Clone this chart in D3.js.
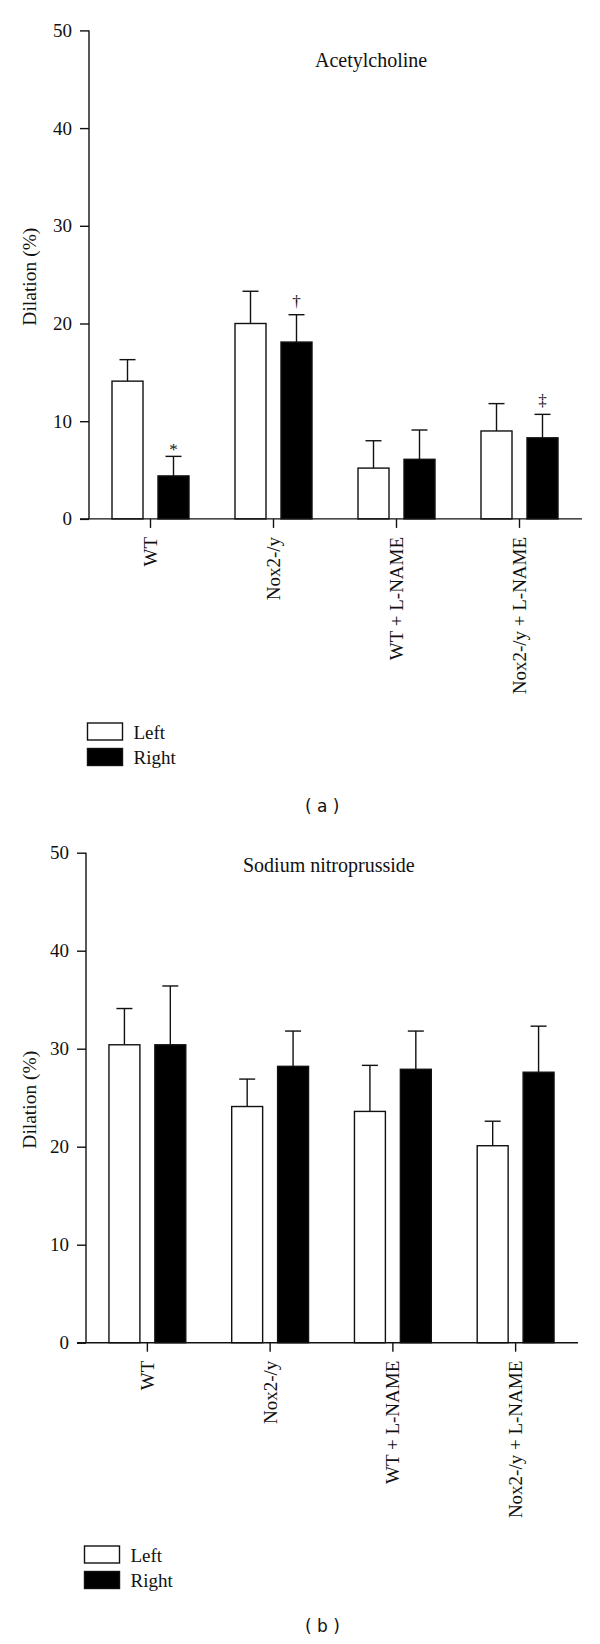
<!DOCTYPE html>
<html>
<head>
<meta charset="utf-8">
<script src="https://cdn.jsdelivr.net/npm/d3@7/dist/d3.min.js"></script>
<style>
  html, body { margin: 0; padding: 0; background: #fff; }
  svg { display: block; }
  text { fill: #111; }
</style>
</head>
<body>
<svg id="chart" width="600" height="1644"></svg>
<script>
// ---------- Data ----------
const categories = ["WT", "Nox2-/y", "WT + L-NAME", "Nox2-/y + L-NAME"];
const seriesNames = ["Left", "Right"];
const yTicks = [0, 10, 20, 30, 40, 50];

// Panel (a): Acetylcholine
const achLeft      = [14.1, 20.0, 5.2, 9.0];
const achLeftErr   = [2.2, 3.3, 2.8, 2.8];
const achRight     = [4.4, 18.1, 6.1, 8.3];
const achRightErr  = [2.0, 2.8, 3.0, 2.4];
const achRightMarks = ["*", "\u2020", "", "\u2021"];

// Panel (b): Sodium nitroprusside
const snpLeft      = [30.4, 24.1, 23.6, 20.1];
const snpLeftErr   = [3.7, 2.8, 4.7, 2.5];
const snpRight     = [30.4, 28.2, 27.9, 27.6];
const snpRightErr  = [6.0, 3.6, 3.9, 4.7];
const snpRightMarks = ["", "", "", ""];

// ---------- Drawing ----------
const svg = d3.select("#chart");
const SERIF = "'Liberation Serif', 'Times New Roman', serif";
const INK = "#111";
const LW = 1.4;

function drawPanel(cfg) {
  const g = svg.append("g");
  const y = d3.scaleLinear().domain([0, 50]).range([cfg.bottom, cfg.top]);
  const x0 = d3.scaleBand().domain(categories).range([cfg.left, cfg.right]).padding(0);
  const x1 = d3.scaleBand().domain(seriesNames).range([0, x0.bandwidth()])
    .paddingInner(0.326).paddingOuter(0.5);

  const rows = [];
  categories.forEach((c, i) => {
    rows.push({cat: c, s: "Left", v: cfg.left_vals[i], e: cfg.left_err[i], m: ""});
    rows.push({cat: c, s: "Right", v: cfg.right_vals[i], e: cfg.right_err[i], m: cfg.marks[i]});
  });

  // error bars (upper only)
  const eb = g.append("g");
  rows.forEach(d => {
    const cx = x0(d.cat) + x1(d.s) + x1.bandwidth() / 2;
    eb.append("line").attr("x1", cx).attr("x2", cx)
      .attr("y1", y(d.v)).attr("y2", y(d.v + d.e))
      .attr("stroke", INK).attr("stroke-width", LW);
    eb.append("line").attr("x1", cx - 8).attr("x2", cx + 8)
      .attr("y1", y(d.v + d.e)).attr("y2", y(d.v + d.e))
      .attr("stroke", INK).attr("stroke-width", LW);
    if (d.m) {
      const off = d.m === "*" ? 1 : 8;
      g.append("text").attr("x", cx).attr("y", y(d.v + d.e) - off)
        .attr("text-anchor", "middle")
        .style("font-family", SERIF).style("font-size", "17px")
        .text(d.m);
    }
  });

  // bars
  g.append("g").selectAll("rect").data(rows).join("rect")
    .attr("x", d => x0(d.cat) + x1(d.s))
    .attr("y", d => y(d.v))
    .attr("width", x1.bandwidth())
    .attr("height", d => y(0) - y(d.v))
    .attr("fill", d => d.s === "Left" ? "#fff" : "#000")
    .attr("stroke", INK).attr("stroke-width", LW);

  // y axis
  const ya = g.append("g").attr("transform", `translate(${cfg.left},0)`)
    .call(d3.axisLeft(y).tickValues(yTicks).tickSize(9).tickPadding(8).tickFormat(d3.format("d")))
    .attr("font-family", SERIF).attr("font-size", 19);
  ya.select(".domain").attr("stroke", INK).attr("stroke-width", LW).attr("d", `M0,${cfg.top}V${cfg.bottom}`);
  ya.selectAll(".tick line").attr("stroke", INK).attr("stroke-width", LW);
  ya.selectAll(".tick text").style("font-family", SERIF).style("font-size", "19px").attr("fill", INK);

  // x axis
  const xa = g.append("g").attr("transform", `translate(0,${cfg.bottom})`)
    .call(d3.axisBottom(x0).tickSize(9).tickPadding(9))
    .attr("font-family", SERIF).attr("font-size", 19);
  xa.select(".domain").attr("stroke", INK).attr("stroke-width", LW)
    .attr("d", `M${cfg.left - 9},0H${cfg.right + 1}`);
  xa.selectAll(".tick line").attr("stroke", INK).attr("stroke-width", LW);
  xa.selectAll(".tick text")
    .style("font-family", SERIF).style("font-size", "19px").attr("fill", INK)
    .attr("transform", "rotate(-90)")
    .attr("text-anchor", "end")
    .attr("x", -18).attr("y", 0).attr("dy", "0.34em");

  // y label
  g.append("text")
    .attr("transform", `translate(36,${(cfg.top + cfg.bottom) / 2 + 2}) rotate(-90)`)
    .attr("text-anchor", "middle")
    .style("font-family", SERIF).style("font-size", "19.5px")
    .text("Dilation (%)");

  // title
  g.append("text").attr("x", cfg.titleX).attr("y", cfg.titleY)
    .style("font-family", SERIF).style("font-size", "20px")
    .text(cfg.title);

  // legend
  seriesNames.forEach((s, i) => {
    g.append("rect").attr("x", cfg.legX).attr("y", cfg.legY + i * 25.5)
      .attr("width", 35).attr("height", 17)
      .attr("fill", s === "Left" ? "#fff" : "#000")
      .attr("stroke", INK).attr("stroke-width", LW);
    g.append("text").attr("x", cfg.legX + 46).attr("y", cfg.legY + i * 24.5 + 16)
      .style("font-family", SERIF).style("font-size", "19px")
      .text(s);
  });

  // panel letter
  g.append("text").attr("x", 305).attr("y", cfg.letterY)
    .style("font-family", "'DejaVu Sans', Verdana, sans-serif").style("font-size", "17px")
    .text(cfg.letter);
}

drawPanel({
  left: 89, right: 581, top: 30.4, bottom: 518.9,
  left_vals: achLeft, left_err: achLeftErr,
  right_vals: achRight, right_err: achRightErr, marks: achRightMarks,
  title: "Acetylcholine", titleX: 315, titleY: 67,
  legX: 87.5, legY: 723, letter: "( a )", letterY: 812
});

drawPanel({
  left: 86, right: 577, top: 852.7, bottom: 1342.7,
  left_vals: snpLeft, left_err: snpLeftErr,
  right_vals: snpRight, right_err: snpRightErr, marks: snpRightMarks,
  title: "Sodium nitroprusside", titleX: 243, titleY: 872,
  legX: 84.5, legY: 1546, letter: "( b )", letterY: 1632
});
</script>
</body>
</html>
